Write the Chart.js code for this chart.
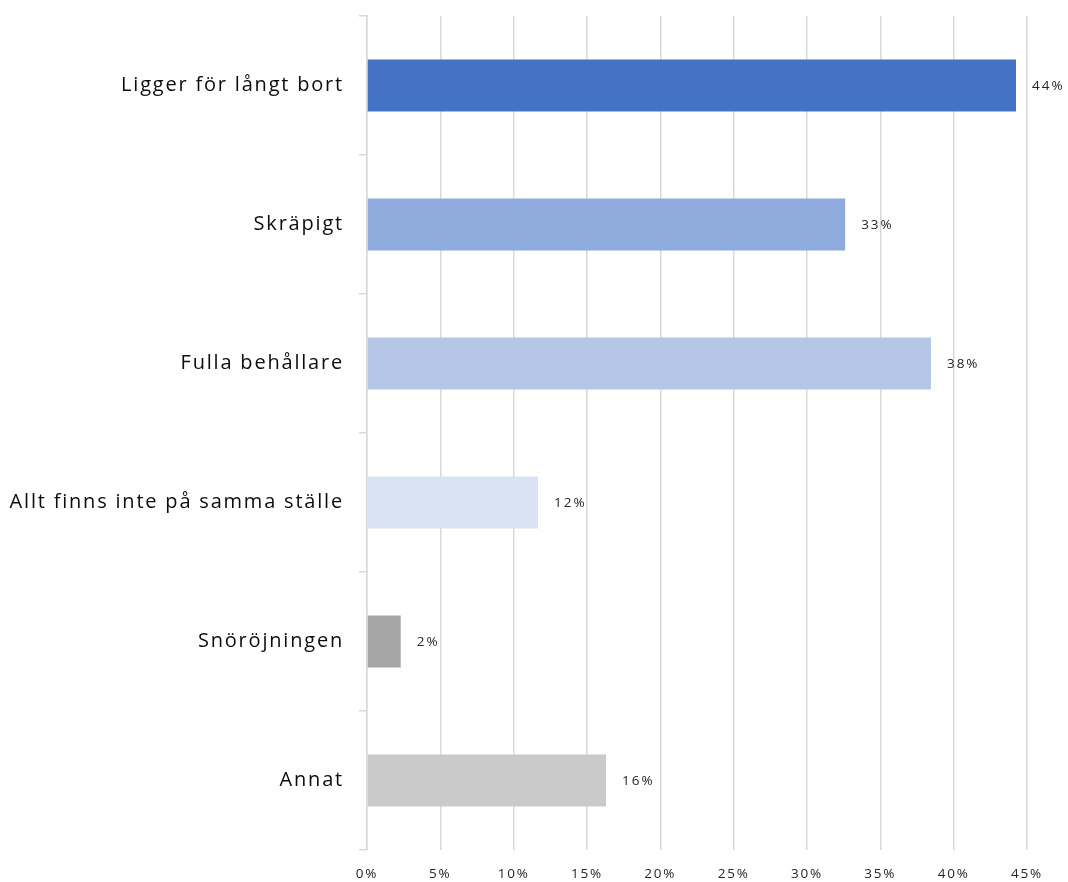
<!DOCTYPE html>
<html>
<head>
<meta charset="utf-8">
<script src="https://cdn.jsdelivr.net/npm/chart.js@4.4.0/dist/chart.umd.min.js"></script>
<style>
html,body{margin:0;padding:0;background:#fff;}
#wrap{width:1068px;height:882px;}
</style>
</head>
<body>
<div id="wrap"><canvas id="c" width="1068" height="882"></canvas></div>
<script>
const categories = ["Ligger för långt bort", "Skräpigt", "Fulla behållare", "Allt finns inte på samma ställe", "Snöröjningen", "Annat"];
const values = [0.4425, 0.326, 0.3845, 0.1166, 0.023, 0.163];
const barColors = ["#4472C4", "#8FAADC", "#B4C7E7", "#DAE3F3", "#A5A5A5", "#CACACA"];
const xTickMax = 0.45;
const xTickStep = 0.05;

const spacing = {
  id: 'spacing',
  beforeDraw(chart) { chart.ctx.letterSpacing = '1.8px'; }
};

const valueLabels = {
  id: 'valueLabels',
  afterDatasetsDraw(chart) {
    const ctx = chart.ctx;
    const meta = chart.getDatasetMeta(0);
    ctx.save();
    ctx.letterSpacing = '2px';
    ctx.font = '13.5px "Open Sans", sans-serif';
    ctx.fillStyle = '#262626';
    ctx.textAlign = 'left';
    ctx.textBaseline = 'middle';
    meta.data.forEach((bar, i) => {
      ctx.fillText(Math.round(values[i] * 100) + '%', bar.x + 16, bar.y + 1);
    });
    ctx.restore();
  }
};

new Chart(document.getElementById('c'), {
  type: 'bar',
  data: {
    labels: categories,
    datasets: [{
      data: values,
      backgroundColor: barColors,
      barPercentage: 0.75,
      categoryPercentage: 0.5
    }]
  },
  options: {
    indexAxis: 'y',
    responsive: false,
    animation: false,
    layout: { padding: { top: 16, right: 41, left: 0, bottom: 0 } },
    plugins: { legend: { display: false }, tooltip: { enabled: false } },
    scales: {
      x: {
        min: 0,
        max: xTickMax,
        ticks: {
          stepSize: xTickStep,
          callback: v => Math.round(v * 100) + '%',
          color: '#262626',
          font: { family: '"Open Sans", sans-serif', size: 13.5 },
          padding: 16
        },
        grid: { color: '#d9d9d9', lineWidth: 1.5, drawTicks: false },
        border: { display: false },
        afterFit: s => { s.height = 32; s.paddingLeft = 0; s.paddingRight = 0; }
      },
      y: {
        ticks: {
          color: '#0d0d0d',
          font: { family: '"Open Sans", sans-serif', size: 20 },
          padding: 15
        },
        grid: { drawOnChartArea: false, drawTicks: true, tickLength: 8, color: '#d9d9d9', lineWidth: 1.5, offset: true },
        border: { display: true, color: '#d9d9d9', width: 1.5 },
        afterFit: s => { s.width = 367; s.paddingTop = 0; s.paddingBottom = 0; }
      }
    }
  },
  plugins: [spacing, valueLabels]
});
</script>
</body>
</html>
